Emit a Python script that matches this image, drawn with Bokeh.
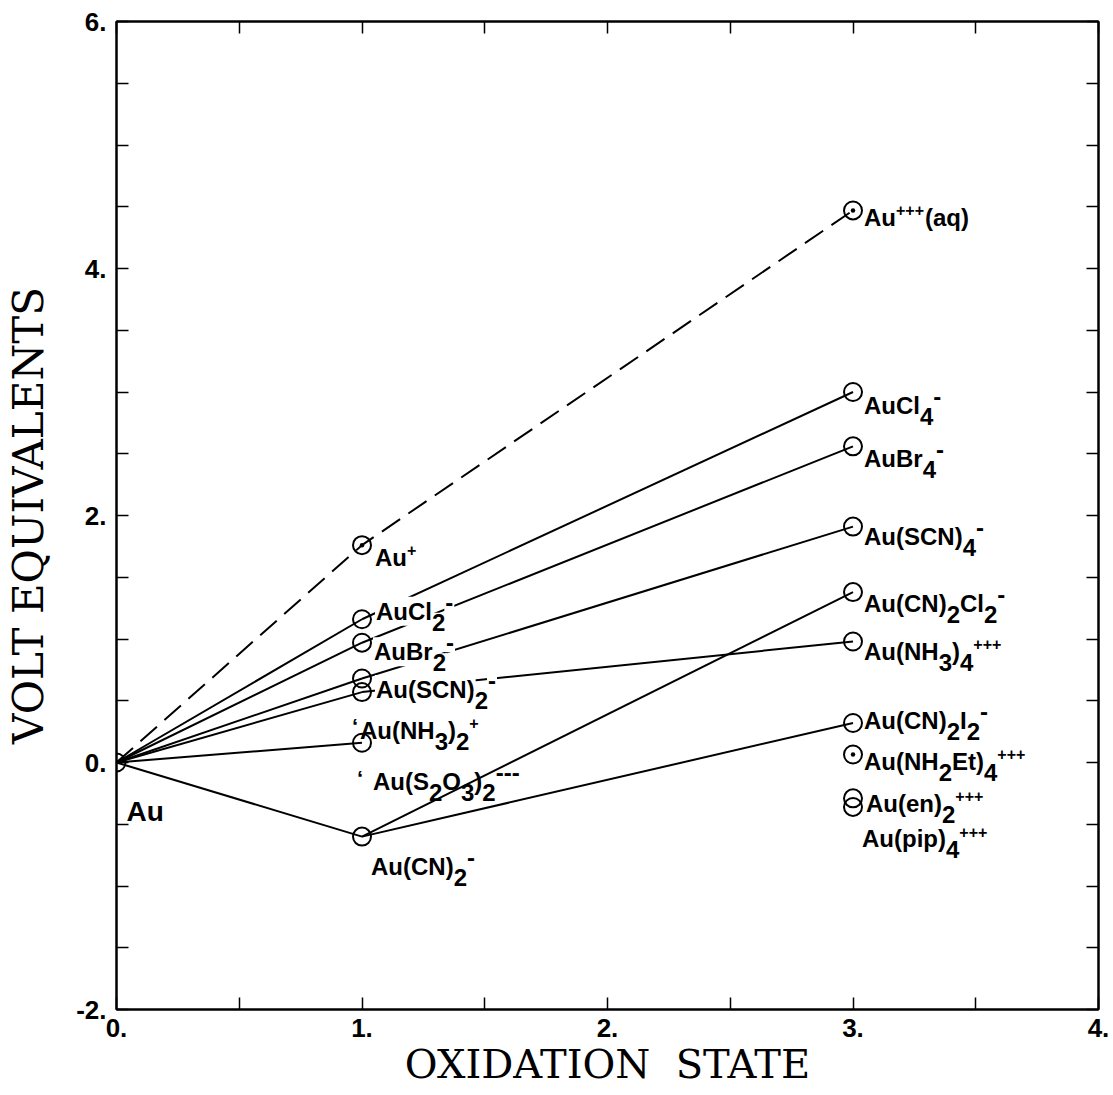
import re
from bokeh.plotting import figure
from bokeh.models import ColumnDataSource, FixedTicker, LinearAxis, Range1d, PrintfTickFormatter
from bokeh.core.properties import value
from bokeh.embed import file_html
from bokeh.resources import INLINE

# ---------------- data ----------------
species = ["Au", "Au+", "AuCl2-", "AuBr2-", "Au(SCN)2-", "Au(NH3)2+", "Au(S2O3)2---", "Au(CN)2-",
           "Au+++(aq)", "AuCl4-", "AuBr4-", "Au(SCN)4-", "Au(CN)2Cl2-", "Au(NH3)4+++",
           "Au(CN)2I2-", "Au(NH2Et)4+++", "Au(en)2+++", "Au(pip)4+++"]
ox_state = [0, 1, 1, 1, 1, 1, 1, 1,
            3, 3, 3, 3, 3, 3, 3, 3, 3, 3]
volt_eq = [0.0, 1.76, 1.16, 0.97, 0.68, 0.57, 0.16, -0.60,
           4.47, 3.00, 2.56, 1.91, 1.38, 0.98, 0.32, 0.065, -0.29, -0.36]
label_markup = ["Au", "Au^{+}", "AuCl_{2}^{-}", "AuBr_{2}^{-}", "Au(SCN)_{2}^{-}", "Au(NH_{3})_{2}^{+}",
                "Au(S_{2}O_{3})_{2}^{---}", "Au(CN)_{2}^{-}",
                "Au^{+++}(aq)", "AuCl_{4}^{-}", "AuBr_{4}^{-}", "Au(SCN)_{4}^{-}", "Au(CN)_{2}Cl_{2}^{-}",
                "Au(NH_{3})_{4}^{+++}", "Au(CN)_{2}I_{2}^{-}", "Au(NH_{2}Et)_{4}^{+++}",
                "Au(en)_{2}^{+++}", "Au(pip)_{4}^{+++}"]
dotted_species = ["Au+", "Au+++(aq)", "Au(NH2Et)4+++"]
dashed_path = ["Au", "Au+", "Au+++(aq)"]
solid_links = [("Au", "AuCl2-"), ("Au", "AuBr2-"), ("Au", "Au(SCN)2-"), ("Au", "Au(NH3)2+"),
               ("Au", "Au(S2O3)2---"), ("Au", "Au(CN)2-"),
               ("AuCl2-", "AuCl4-"), ("AuBr2-", "AuBr4-"), ("Au(SCN)2-", "Au(SCN)4-"),
               ("Au(NH3)2+", "Au(NH3)4+++"), ("Au(CN)2-", "Au(CN)2Cl2-"), ("Au(CN)2-", "Au(CN)2I2-")]
x_ticks = [0, 1, 2, 3, 4]
y_ticks = [-2, 0, 2, 4, 6]

# ---------------- layout (screen px) ----------------
label_offset = {
    "Au": (10, 49), "Au+": (13, 12), "AuCl2-": (13, -8), "AuBr2-": (11, 9),
    "Au(SCN)2-": (13, 11), "Au(NH3)2+": (-2, 38), "Au(S2O3)2---": (11, 39), "Au(CN)2-": (9, 30),
    "Au+++(aq)": (11, 7), "AuCl4-": (11, 13), "AuBr4-": (11, 12), "Au(SCN)4-": (11, 10),
    "Au(CN)2Cl2-": (11, 11), "Au(NH3)4+++": (11, 10), "Au(CN)2I2-": (11, -2),
    "Au(NH2Et)4+++": (11, 7), "Au(en)2+++": (13, 5), "Au(pip)4+++": (9, 32),
}
masked = {"AuCl2-", "AuBr2-", "Au(SCN)2-"}
tick_marks = {"Au(NH3)2+": (-10, 34), "Au(S2O3)2---": (-5, 36)}

W = {'A': 722, 'B': 722, 'C': 722, 'E': 667, 'H': 722, 'I': 278, 'L': 611, 'N': 722, 'O': 778,
     'S': 667, 'a': 556, 'e': 556, 'i': 278, 'l': 278, 'n': 611, 'p': 611, 'q': 611, 'r': 389,
     't': 333, 'u': 611, '(': 333, ')': 333, '2': 556, '3': 556, '4': 556, '-': 333, '+': 584}
MAIN = 24


def width(s, size):
    return sum(W.get(c, 600) for c in s) * size / 1000.0


def parse(markup):
    out = []
    for tok in re.findall(r'_\{[^}]*\}|\^\{[^}]*\}|[^_^]+', markup):
        if tok.startswith('_{'):
            out.append((tok[2:-1], 'sub'))
        elif tok.startswith('^{'):
            out.append((tok[2:-1], 'sup'))
        else:
            out.append((tok, 'main'))
    return out


pos = {s: (x, y) for s, x, y in zip(species, ox_state, volt_eq)}

p = figure(frame_width=982, frame_height=988, x_range=Range1d(0, 4), y_range=Range1d(-2, 6),
           output_backend="svg", toolbar_location=None,
           min_border_left=116, min_border_right=12, min_border_top=21, min_border_bottom=80,
           background_fill_color="white", border_fill_color="white")
p.xgrid.visible = False
p.ygrid.visible = False
p.outline_line_color = "black"
p.outline_line_width = 2

minor_x = [0.5, 1.5, 2.5, 3.5]
minor_y = [-1.5, -1, -0.5, 0.5, 1, 1.5, 2.5, 3, 3.5, 4.5, 5, 5.5]


def style_axis(ax):
    ax.axis_line_width = 2
    ax.major_tick_in = 12
    ax.major_tick_out = 0
    ax.minor_tick_in = 12
    ax.minor_tick_out = 0
    ax.major_tick_line_width = 1.5
    ax.minor_tick_line_width = 1.5
    ax.major_label_text_font = "Liberation Sans"
    ax.major_label_text_font_style = "bold"
    ax.major_label_text_font_size = "26px"
    ax.major_label_text_color = "black"
    ax.axis_label_text_font = "DejaVu Serif"
    ax.axis_label_text_font_style = "normal"
    ax.axis_label_text_font_size = "40px"
    ax.axis_label_text_color = "black"


xax = p.xaxis[0]
yax = p.yaxis[0]
xax.ticker = FixedTicker(ticks=x_ticks, minor_ticks=minor_x)
yax.ticker = FixedTicker(ticks=y_ticks, minor_ticks=minor_y)
xax.formatter = PrintfTickFormatter(format="%d.")
yax.formatter = PrintfTickFormatter(format="%d.")
xax.axis_label = "OXIDATION\u00a0\u00a0STATE"
yax.axis_label = "VOLT EQUIVALENTS"
style_axis(xax)
style_axis(yax)
yax.axis_label_text_font_size = "42px"
xax.major_label_standoff = 9
yax.major_label_standoff = 10
xax.axis_label_standoff = 1
yax.axis_label_standoff = 20

top = LinearAxis(ticker=FixedTicker(ticks=[], minor_ticks=x_ticks + minor_x))
right = LinearAxis(ticker=FixedTicker(ticks=[], minor_ticks=y_ticks + minor_y))
for ax in (top, right):
    style_axis(ax)
    ax.major_label_standoff = 0
p.add_layout(top, "above")
p.add_layout(right, "right")

# lines
dx = [pos[s][0] for s in dashed_path]
dy = [pos[s][1] for s in dashed_path]
p.line(dx, dy, line_color="black", line_width=2, line_dash="22 10")
p.multi_line([[pos[a][0], pos[b][0]] for a, b in solid_links],
             [[pos[a][1], pos[b][1]] for a, b in solid_links],
             line_color="black", line_width=2)

# labels
rows = {True: dict(x=[], y=[], text=[], xo=[], yo=[], fs=[]),
        False: dict(x=[], y=[], text=[], xo=[], yo=[], fs=[])}
for s, mk in zip(species, label_markup):
    if s == "Au":
        continue
    x0, y0 = pos[s]
    ox, oy = label_offset[s]
    cur = ox
    r = rows[s in masked]
    for txt, kind in parse(mk):
        if kind == 'main':
            size, shift = MAIN, 0
        elif kind == 'sub':
            size, shift = MAIN, 11
        else:
            if '+' in txt:
                size, shift = 16, -7
            else:
                size, shift = MAIN, -9
        r["x"].append(x0); r["y"].append(y0); r["text"].append(txt)
        r["xo"].append(cur); r["yo"].append(oy + shift); r["fs"].append(f"{size}px")
        cur += width(txt, size) + (1 if kind == 'sup' else 0)
    if s in tick_marks:
        tx, ty = tick_marks[s]
        r2 = rows[False]
        r2["x"].append(x0); r2["y"].append(y0); r2["text"].append("\u2018")
        r2["xo"].append(tx); r2["yo"].append(ty); r2["fs"].append("22px")

p.text(x="x", y="y", text="text", x_offset="xo", y_offset="yo", text_font_size="fs",
       text_font=value("Liberation Sans"), text_font_style="bold", text_color="black",
       text_baseline="alphabetic", text_align="left", source=ColumnDataSource(rows[False]))
p.text(x="x", y="y", text="text", x_offset="xo", y_offset="yo", text_font_size="fs",
       text_font=value("Liberation Sans"), text_font_style="bold", text_color="black",
       text_baseline="alphabetic", text_align="left",
       background_fill_color="white", padding=1,
       source=ColumnDataSource(rows[True]))

ax0, ay0 = pos["Au"]
p.text(x=[ax0], y=[ay0], text=["Au"], x_offset=label_offset["Au"][0], y_offset=label_offset["Au"][1],
       text_font=value("Liberation Sans"), text_font_style="bold", text_font_size="28px",
       text_baseline="alphabetic", text_align="left", text_color="black")

# markers
mk_src = ColumnDataSource(dict(x=ox_state, y=volt_eq,
                               marker=["circle_dot" if s in dotted_species else "circle" for s in species]))
p.scatter(x="x", y="y", marker="marker", size=18, fill_color=None, line_color="black",
          line_width=2, source=mk_src)

open("out.html", "w").write(file_html(p, INLINE))
